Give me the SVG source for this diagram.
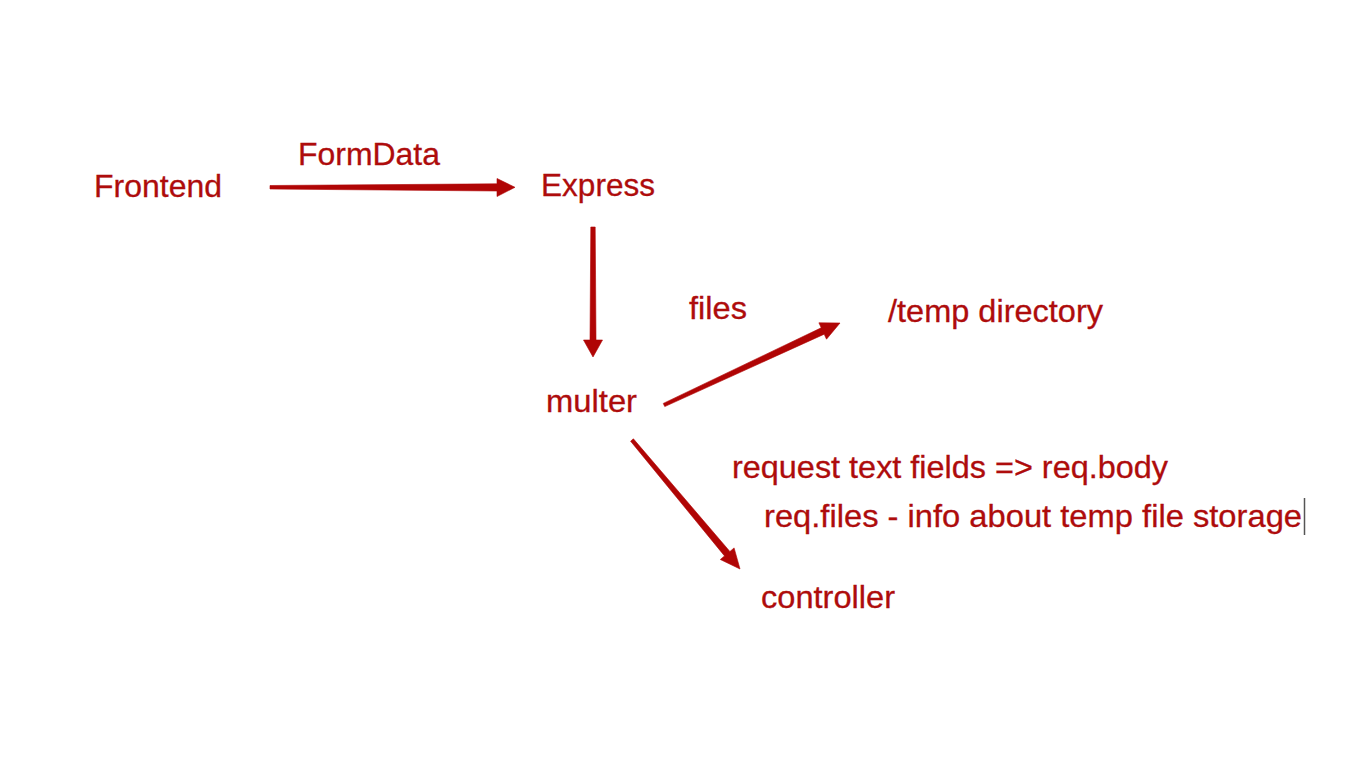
<svg xmlns="http://www.w3.org/2000/svg" width="1367" height="775" viewBox="0 0 1367 775">
<style>
.t{font-family:"Liberation Sans",Arial,sans-serif;font-size:32px;fill:#AE0C0C;stroke:#AE0C0C;stroke-width:0.3}
.a{fill:#B00505;stroke:#B00505;stroke-width:0.6;stroke-linejoin:round}
</style>
<rect width="1367" height="775" fill="#FFFFFF"/>
<g id="frontend"><text class="t" x="94" y="197" textLength="128" lengthAdjust="spacingAndGlyphs">Frontend</text></g>
<g id="express"><text class="t" x="541" y="196" textLength="114" lengthAdjust="spacingAndGlyphs">Express</text></g>
<g id="multer"><text class="t" x="546" y="412" textLength="91" lengthAdjust="spacingAndGlyphs">multer</text></g>
<g id="temp"><text class="t" x="888" y="322" textLength="215" lengthAdjust="spacingAndGlyphs">/temp directory</text></g>
<g id="controller"><text class="t" x="761" y="608" textLength="134" lengthAdjust="spacingAndGlyphs">controller</text></g>
<g id="notes">
<text class="t" x="732" y="478" textLength="436" lengthAdjust="spacingAndGlyphs">request text fields =&gt; req.body</text>
<text class="t" x="764" y="527" textLength="538" lengthAdjust="spacingAndGlyphs">req.files - info about temp file storage</text>
<line x1="1304.5" y1="498" x2="1304.5" y2="535" stroke="#555555" stroke-width="1.5"/>
</g>
<g id="connectors">
<polygon class="a" points="270,185.5 497,183.8 497,178.5 515,187.3 497,196.5 497,191 270,189"/>
<polygon class="a" points="590.8,227 595.2,227 596,340 602.5,340 593,357 583.5,340 590,340"/>
<polygon class="a" points="663.25,403.4 821.2,327.8 818.9,322.8 840,323 826.5,339.2 824.2,334.2 664.75,406.6"/>
<polygon class="a" points="630.6,441.2 724.5,555.9 720.3,559.5 740,569 734.1,547.9 729.9,551.5 633.4,438.8"/>
<text class="t" x="298" y="165" textLength="142" lengthAdjust="spacingAndGlyphs">FormData</text>
<text class="t" x="689" y="319" textLength="58" lengthAdjust="spacingAndGlyphs">files</text>
</g>
</svg>
